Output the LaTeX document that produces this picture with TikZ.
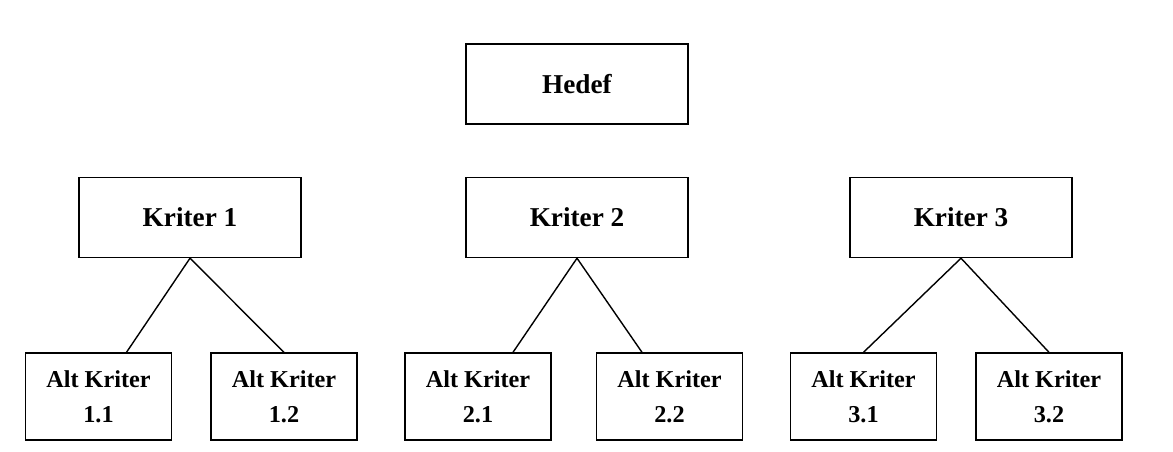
\documentclass[tikz,border=0pt]{standalone}
\usepackage{fontspec}
\setmainfont{Liberation Serif}
\begin{document}
\begin{tikzpicture}[x=0.02cm,y=-0.02cm,
    kutu/.style={draw,thick,minimum width=4.44cm,minimum height=1.6cm,font=\bfseries\fontsize{15.5}{18}\selectfont},
    altkutu/.style={draw,thick,minimum width=2.92cm,minimum height=1.74cm,align=center,font=\bfseries\fontsize{13.8}{20}\selectfont}]
      \useasboundingbox (0,0) rectangle (1173,451);
      \node[kutu] (hedef) at (577,84) {Hedef};
      \node[kutu] (k1) at (190,217.5) {Kriter 1};
      \node[kutu] (k2) at (577,217.5) {Kriter 2};
      \node[kutu] (k3) at (961,217.5) {Kriter 3};
      \node[altkutu] (a11) at (98.5,396.5) {Alt Kriter\\1.1};
      \node[altkutu] (a12) at (284,396.5) {Alt Kriter\\1.2};
      \node[altkutu] (a21) at (478,396.5) {Alt Kriter\\2.1};
      \node[altkutu] (a22) at (669.5,396.5) {Alt Kriter\\2.2};
      \node[altkutu] (a31) at (863.5,396.5) {Alt Kriter\\3.1};
      \node[altkutu] (a32) at (1049,396.5) {Alt Kriter\\3.2};
      \draw[thick] (k1.south) -- ([xshift=0.56cm]a11.north);
      \draw[thick] (k1.south) -- (a12.north);
      \draw[thick] (k2.south) -- ([xshift=0.7cm]a21.north);
      \draw[thick] (k2.south) -- ([xshift=-0.55cm]a22.north);
      \draw[thick] (k3.south) -- (a31.north);
      \draw[thick] (k3.south) -- (a32.north);
\end{tikzpicture}
\end{document}
